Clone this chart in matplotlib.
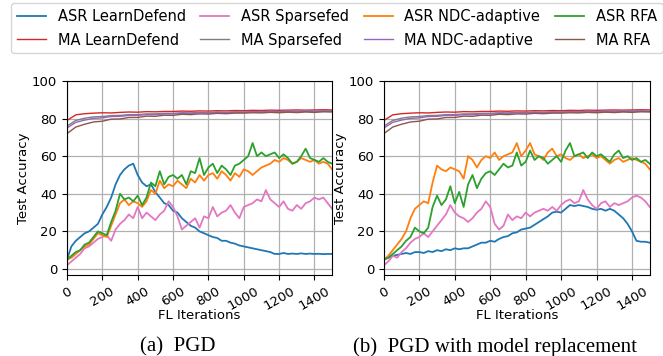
import numpy as np
import matplotlib
matplotlib.use('Agg')
import matplotlib.pyplot as plt

# iteracoes (ASR a cada 25, MA a cada 50)
iters = np.arange(0, 1501, 25)
iters_ma = np.arange(0, 1501, 50)

# (a) PGD
asr_learndefend_a = [5, 12, 15, 17, 19, 20, 22, 24, 29, 33, 38, 45, 50, 53, 55, 56, 50, 46, 44, 45,
                     41, 38, 35, 34, 31, 30, 27, 25, 23, 22, 20, 19, 18, 17, 16.5, 15, 15, 14, 13.5, 12.5,
                     12, 11.5, 11, 10.5, 10, 9.5, 9, 8, 8, 8.5, 8, 8.2, 8, 8.3, 8, 8.2, 8, 8.1, 7.9, 8, 8]
asr_sparsefed_a = [2, 4, 6, 8, 11, 12, 14, 16, 17, 18, 15, 21, 24, 26, 29, 27, 33, 27, 30, 28,
                   26, 29, 31, 36, 33, 28, 21, 23, 25, 27, 22, 28, 27, 33, 28, 30, 31, 34, 30, 27,
                   33, 34, 35, 37, 36, 42, 37, 35, 33, 36, 32, 31, 34, 32, 35, 36, 38, 37, 38, 35, 32]
asr_ndc_a = [5, 6, 8, 10, 12, 13, 16, 19, 18, 17, 23, 29, 35, 37, 34, 36, 35, 33, 36, 42,
             40, 47, 43, 45, 44, 47, 45, 43, 48, 46, 50, 47, 50, 51, 48, 52, 50, 47, 51, 49,
             53, 52, 50, 52, 54, 55, 56, 58, 57, 59, 58, 56, 57, 59, 58, 57, 58, 56, 57, 56, 53]
asr_rfa_a = [5, 7, 9, 10, 13, 14, 17, 20, 19, 18, 25, 31, 40, 37, 38, 36, 39, 34, 38, 46,
             44, 52, 45, 49, 50, 48, 50, 45, 52, 51, 59, 50, 54, 56, 51, 55, 53, 50, 55, 56,
             58, 60, 67, 60, 62, 60, 61, 62, 59, 61, 59, 56, 57, 60, 64, 59, 58, 57, 59, 57, 56]

# (b) PGD with model replacement
asr_learndefend_b = [5, 6, 7, 7.5, 8, 8.5, 8, 9, 9, 8.5, 9.5, 9, 10, 9.5, 10.5, 10, 11, 10.5, 11, 11,
                     12, 13, 14, 14, 15, 14.5, 16, 17, 17.5, 19, 19.5, 21, 21.5, 22, 23.5, 25, 26.5, 28, 30, 30.5,
                     30, 32, 34, 33.5, 34, 33.5, 33, 32, 31.5, 32, 31, 32, 31, 29, 27, 24, 20, 15, 14.5, 14.5, 14]
asr_sparsefed_b = [2, 4, 7, 6, 9, 11, 14, 16, 17, 19, 17, 20, 23, 26, 29, 34, 30, 28, 27, 25,
                   27, 30, 32, 36, 33, 24, 21, 23, 29, 26, 28, 27, 30, 28, 30, 31, 32, 31, 33, 31,
                   34, 36, 37, 35, 36, 42, 37, 34, 32, 35, 36, 33, 35, 34, 35, 36, 38, 39, 38, 36, 33]
asr_ndc_b = [5, 7, 10, 13, 16, 20, 27, 32, 34, 36, 35, 46, 55, 53, 52, 54, 53, 52, 48, 60,
             58, 54, 58, 60, 59, 62, 58, 60, 61, 62, 67, 60, 63, 67, 61, 60, 58, 62, 64, 60,
             61, 59, 58, 60, 61, 59, 60, 61, 59, 60, 58, 56, 58, 59, 57, 58, 59, 58, 57, 56, 53]
asr_rfa_b = [5, 6, 8, 10, 12, 15, 17, 22, 20, 19, 22, 33, 39, 34, 37, 44, 35, 41, 33, 45,
             50, 43, 48, 51, 52, 50, 53, 56, 54, 55, 62, 55, 57, 63, 58, 60, 59, 56, 58, 60,
             57, 63, 67, 60, 61, 62, 59, 62, 60, 61, 59, 57, 61, 63, 59, 60, 58, 59, 57, 58, 56]

# MA (quase iguais nos dois casos)
ma_learndefend = [79, 82, 82.6, 82.9, 83.1, 83, 83.3, 83.5, 83.4, 83.7, 83.6, 83.8, 83.8, 84, 83.9, 84.1,
                  84, 84.2, 84.1, 84.3, 84.2, 84.4, 84.3, 84.5, 84.4, 84.5, 84.6, 84.5, 84.6, 84.7, 84.6]
ma_sparsefed = [76, 79, 80.2, 80.9, 81.1, 81.6, 81.7, 82.1, 82.1, 82.5, 82.5, 82.8, 82.8, 83.1, 83, 83.3,
                83.2, 83.5, 83.3, 83.6, 83.5, 83.7, 83.6, 83.9, 83.7, 84, 83.8, 84.1, 83.9, 84.1, 84]
ma_ndc = [75, 78, 79.2, 80.1, 80.4, 81.1, 81.2, 81.7, 81.7, 82.1, 82.1, 82.5, 82.5, 82.8, 82.8, 83.1,
          83, 83.3, 83.2, 83.4, 83.3, 83.6, 83.4, 83.7, 83.6, 83.8, 83.7, 83.9, 83.8, 84, 83.9]
ma_rfa = [72, 75.5, 77, 78.2, 78.6, 79.7, 79.8, 80.6, 80.6, 81.3, 81.2, 81.8, 81.7, 82.3, 82.1, 82.5,
          82.4, 82.8, 82.6, 82.9, 82.9, 83.1, 83, 83.3, 83.1, 83.4, 83.2, 83.5, 83.3, 83.6, 83.5]

xticks = [0, 200, 400, 600, 800, 1000, 1200, 1400]
yticks = [0, 20, 40, 60, 80, 100]

fig = plt.figure(figsize=(6.63, 3.56), dpi=100)
ax1 = fig.add_axes([0.101, 0.2275, 0.400, 0.545])
ax2 = fig.add_axes([0.579, 0.2275, 0.401, 0.545])


def desenha(ax, ld, sp, ndc, rfa):
    ax.plot(iters, ld, color='tab:blue', lw=1.3, label='ASR LearnDefend')
    ax.plot(iters_ma, ma_learndefend, color='tab:red', lw=1.0, label='MA LearnDefend')
    ax.plot(iters, sp, color='tab:pink', lw=1.3, label='ASR Sparsefed')
    ax.plot(iters_ma, ma_sparsefed, color='tab:gray', lw=1.0, label='MA Sparsefed')
    ax.plot(iters, ndc, color='tab:orange', lw=1.3, label='ASR NDC-adaptive')
    ax.plot(iters_ma, ma_ndc, color='tab:purple', lw=1.0, label='MA NDC-adaptive')
    ax.plot(iters, rfa, color='tab:green', lw=1.3, label='ASR RFA')
    ax.plot(iters_ma, ma_rfa, color='tab:brown', lw=1.0, label='MA RFA')
    ax.set_xlim(0, 1500)
    ax.set_ylim(-3.2, 100)
    ax.set_xticks(xticks)
    ax.set_yticks(yticks)
    ax.set_xticklabels([str(t) for t in xticks], rotation=30, ha='center', fontsize=9.5)
    ax.tick_params(axis='y', labelsize=9.5)
    ax.grid(True, color='#b0b0b0', lw=0.9)
    ax.set_xlabel('FL Iterations', fontsize=9.5)
    ax.set_ylabel('Test Accuracy', fontsize=9.5)
    ax.xaxis.set_label_coords(0.5, -0.175)
    ax.yaxis.set_label_coords(-0.14, 0.5)


desenha(ax1, asr_learndefend_a, asr_sparsefed_a, asr_ndc_a, asr_rfa_a)
desenha(ax2, asr_learndefend_b, asr_sparsefed_b, asr_ndc_b, asr_rfa_b)

handles, labels = ax1.get_legend_handles_labels()
fig.legend(handles, labels, loc='upper center', bbox_to_anchor=(0.508, 1.0), ncol=4,
           fontsize=10.5, columnspacing=1.0, handlelength=2.0, labelspacing=0.6,
           borderaxespad=0.2)

fig.text(0.268, 0.025, '(a)  PGD', ha='center', va='center', fontsize=15, family='Liberation Serif')
fig.text(0.746, 0.025, '(b)  PGD with model replacement', ha='center', va='center', fontsize=15,
         family='Liberation Serif')

fig.savefig('out.png', dpi=100)
